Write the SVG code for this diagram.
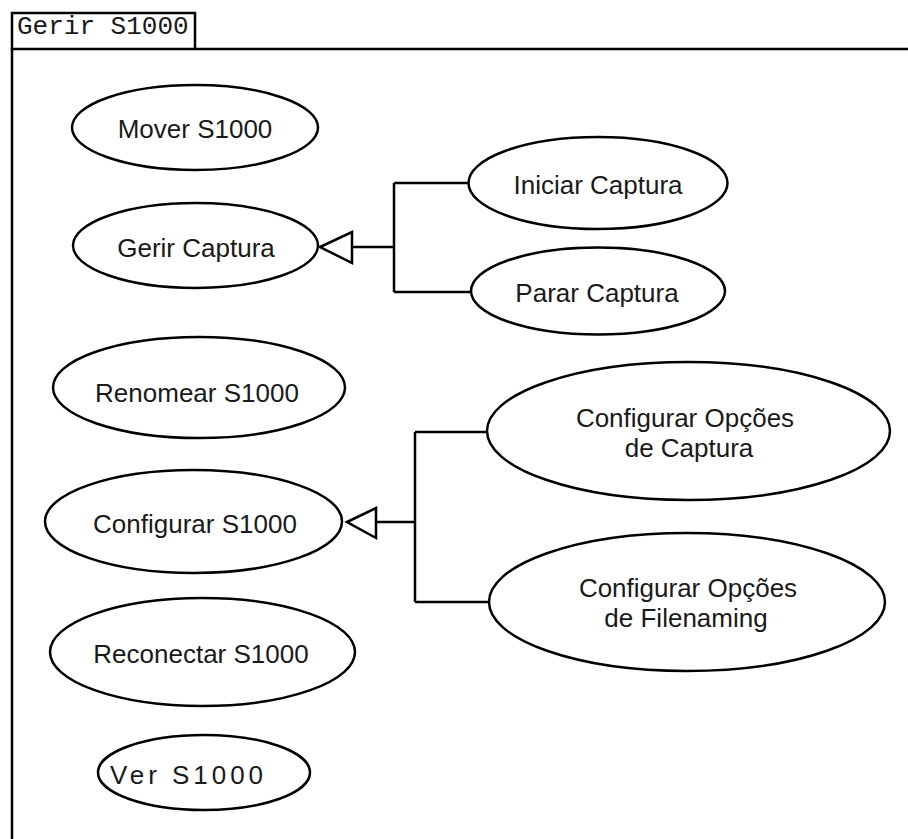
<svg xmlns="http://www.w3.org/2000/svg" width="908" height="839" viewBox="0 0 908 839">
  <style>
    .frame { fill: none; stroke: #000; stroke-width: 2.5; }
    .uc { fill: #fff; stroke: #000; stroke-width: 2.5; }
    .lbl { font-family: "Liberation Sans", Arial, sans-serif; font-size: 26px; fill: #1a1a1a; text-anchor: middle; }
    .title { font-family: "Liberation Mono", "Courier New", monospace; font-size: 26px; fill: #1a1a1a; }
    .wire { fill: none; stroke: #000; stroke-width: 2.5; }
    .gen { fill: #fff; stroke: #000; stroke-width: 2.5; stroke-linejoin: miter; }
  </style>
  <rect width="908" height="839" fill="#fff"/>

  <!-- package frame with name tab -->
  <g id="package">
    <path class="frame" d="M12 49 V13 H195 V49"/>
    <path class="frame" d="M12 839 V49 H910"/>
    <text class="title" x="17" y="34">Gerir S1000</text>
  </g>

  <!-- generalisation connectors -->
  <g id="connectors">
    <path class="wire" d="M352 247 H394 M394 183 V292 M394 183 H469 M394 292 H472"/>
    <polygon class="gen" points="320,247 352,232 352,263"/>
    <path class="wire" d="M376 522 H415 M415 432 V602 M415 432 H488 M415 602 H490"/>
    <polygon class="gen" points="347,522 376,508 376,538"/>
  </g>

  <g id="mover">
    <ellipse class="uc" cx="195" cy="127.5" rx="123" ry="42.5"/>
    <text class="lbl" x="195" y="138">Mover S1000</text>
  </g>
  <g id="gerir-captura">
    <ellipse class="uc" cx="195.5" cy="245.5" rx="122.5" ry="42.5"/>
    <text class="lbl" x="196" y="257">Gerir Captura</text>
  </g>
  <g id="iniciar-captura">
    <ellipse class="uc" cx="598" cy="183" rx="129.5" ry="46"/>
    <text class="lbl" x="598" y="194">Iniciar Captura</text>
  </g>
  <g id="parar-captura">
    <ellipse class="uc" cx="598" cy="291" rx="127" ry="43.5"/>
    <text class="lbl" x="597" y="302">Parar Captura</text>
  </g>
  <g id="renomear">
    <ellipse class="uc" cx="199" cy="387.5" rx="146" ry="50.5"/>
    <text class="lbl" x="197" y="402">Renomear S1000</text>
  </g>
  <g id="configurar">
    <ellipse class="uc" cx="193.5" cy="521.5" rx="148.5" ry="51.5"/>
    <text class="lbl" x="195" y="533">Configurar S1000</text>
  </g>
  <g id="opcoes-captura">
    <ellipse class="uc" cx="688.5" cy="431" rx="201.5" ry="69"/>
    <text class="lbl" x="685" y="427">Configurar Opções</text>
    <text class="lbl" x="689" y="457">de Captura</text>
  </g>
  <g id="opcoes-filenaming">
    <ellipse class="uc" cx="687" cy="602" rx="198" ry="69"/>
    <text class="lbl" x="688" y="597">Configurar Opções</text>
    <text class="lbl" x="686" y="627">de Filenaming</text>
  </g>
  <g id="reconectar">
    <ellipse class="uc" cx="202.5" cy="652" rx="152.5" ry="54"/>
    <text class="lbl" x="201" y="663">Reconectar S1000</text>
  </g>
  <g id="ver">
    <ellipse class="uc" cx="204" cy="772.5" rx="106" ry="37.5"/>
    <text class="lbl" x="186.5" y="784" textLength="153" lengthAdjust="spacing">Ver S1000</text>
  </g>
</svg>
